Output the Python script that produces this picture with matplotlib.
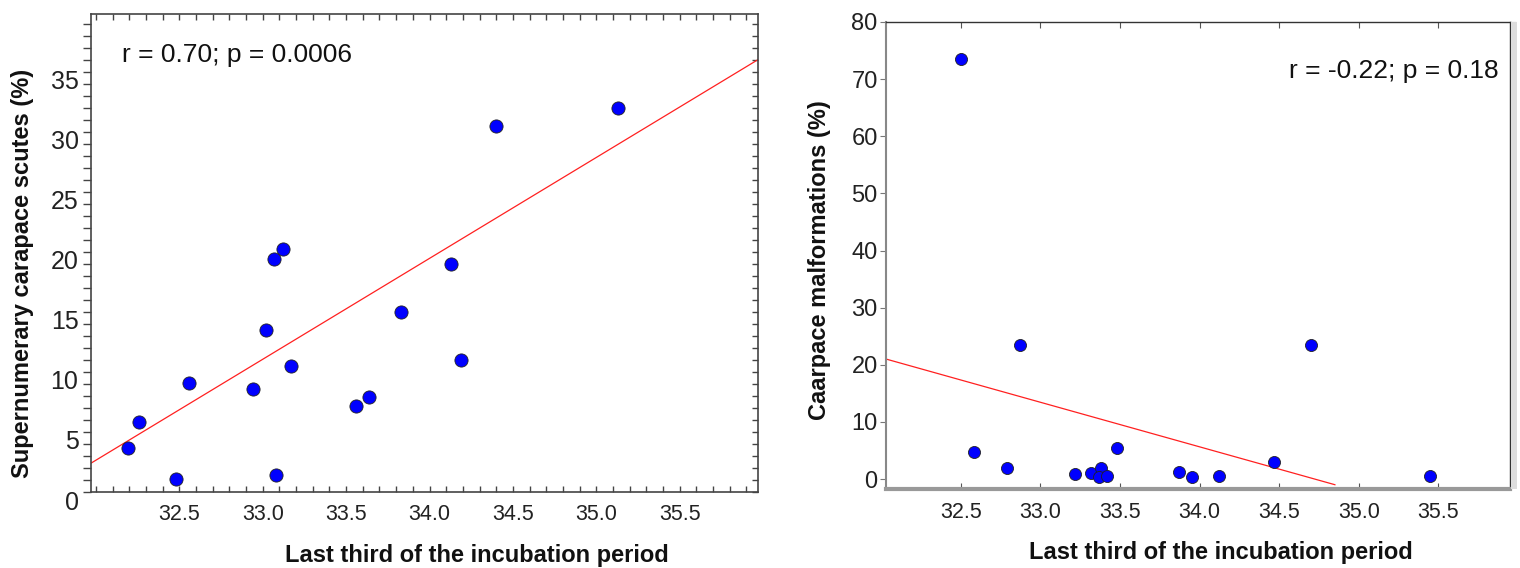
import matplotlib
matplotlib.use("Agg")
import matplotlib.pyplot as plt
import matplotlib.transforms as mtransforms
from matplotlib.ticker import MultipleLocator
from matplotlib.patches import Rectangle
import numpy as np

plt.rcParams['font.family'] = ['Liberation Sans', 'DejaVu Sans']

# ---- Left panel data: supernumerary carapace scutes ----
left_x = [32.19, 32.26, 32.48, 32.56, 32.94, 33.02, 33.08, 33.17, 33.56, 33.64,
          33.83, 34.19, 33.07, 33.12, 34.13, 34.40, 35.13]
left_y = [3.7, 5.8, 1.1, 9.1, 8.6, 13.5, 1.4, 10.5, 7.2, 7.9,
          15.0, 11.0, 19.4, 20.2, 19.0, 30.5, 32.0]
left_fit_x = [31.97, 35.97]
left_fit_y = [2.4, 36.0]
left_text = "r = 0.70; p = 0.0006"
left_xticks = [32.5, 33.0, 33.5, 34.0, 34.5, 35.0, 35.5]
left_yticks = [0, 5, 10, 15, 20, 25, 30, 35]

# ---- Right panel data: carapace malformations ----
right_x = [32.50, 32.58, 32.79, 32.87, 33.22, 33.32, 33.38, 33.37, 33.42, 33.48,
           33.87, 33.95, 34.12, 34.47, 34.70, 35.45]
right_y = [73.6, 4.8, 1.9, 23.5, 0.8, 1.1, 1.9, 0.3, 0.6, 5.4,
           1.3, 0.4, 0.6, 2.9, 23.4, 0.5]
right_fit_x = [32.03, 34.85]
right_fit_y = [21.0, -1.0]
right_text = "r = -0.22; p = 0.18"
right_xticks = [32.5, 33.0, 33.5, 34.0, 34.5, 35.0, 35.5]
right_yticks = [0, 10, 20, 30, 40, 50, 60, 70, 80]

xlabel = "Last third of the incubation period"
left_ylabel = "Supernumerary carapace scutes (%)"
right_ylabel = "Caarpace malformations (%)"

W, H = 1520, 568
fig = plt.figure(figsize=(W / 100, H / 100), dpi=100)
fig.patch.set_facecolor('white')

def ax_rect(l, t, r, b):
    return [l / W, 1 - b / H, (r - l) / W, (b - t) / H]

# ================= Left panel =================
ax1 = fig.add_axes(ax_rect(91, 14, 758, 492))
ax1.scatter(left_x, left_y, s=90, c='#0000ff', edgecolors='#222222',
            linewidths=0.6, zorder=3)
ax1.plot(left_fit_x, left_fit_y, color='#ff2020', lw=0.9, zorder=2)
ax1.set_xlim(31.97, 35.97)
ax1.set_ylim(0, 39.8)
ax1.set_xticks(left_xticks)
ax1.set_xticklabels([f"{v:.1f}" for v in left_xticks])
ax1.set_yticks(left_yticks)
ax1.xaxis.set_minor_locator(MultipleLocator(0.1))
ax1.yaxis.set_minor_locator(MultipleLocator(1))
for sp in ax1.spines.values():
    sp.set_color('#444444')
    sp.set_linewidth(1.2)
ax1.tick_params(axis='y', which='both', left=True, right=True, direction='out',
                length=6, width=1, color='#444444', labelsize=18,
                labelcolor='#222222', pad=3)
ax1.tick_params(axis='x', which='both', bottom=True, top=True, direction='in',
                length=4, width=1, color='#444444', labelsize=15.5,
                labelcolor='#222222', pad=9)
# right-side ticks inward
for t in ax1.yaxis.get_major_ticks() + ax1.yaxis.get_minor_ticks():
    t.tick2line.set_marker(matplotlib.lines.TICKLEFT)
    t.tick2line.set_markersize(4)
offset = mtransforms.ScaledTranslation(0, -8 / 100, fig.dpi_scale_trans)
for lab in ax1.get_yticklabels():
    lab.set_transform(lab.get_transform() + offset)
ax1.text(0.046, 0.914, left_text, transform=ax1.transAxes, fontsize=19,
         color='#111111', ha='left', va='center')
ax1.set_xlabel(xlabel, fontsize=17, fontweight='bold', color='#111111', va='center')
ax1.xaxis.set_label_coords(0.579, -0.132)
ax1.set_ylabel(left_ylabel, fontsize=17, fontweight='bold', color='#111111', va='center')
ax1.yaxis.set_label_coords(-0.103, 0.458)

# ================= Right panel =================
ax2 = fig.add_axes(ax_rect(886, 22, 1510, 489))
ax2.scatter(right_x, right_y, s=75, c='#0000ff', edgecolors='#222222',
            linewidths=0.6, zorder=3, clip_on=False)
ax2.plot(right_fit_x, right_fit_y, color='#ff2020', lw=0.9, zorder=2)
ax2.set_xlim(32.03, 35.95)
ax2.set_ylim(-1.75, 80)
ax2.set_xticks(right_xticks)
ax2.set_xticklabels([f"{v:.1f}" for v in right_xticks])
ax2.set_yticks(right_yticks)
ax2.spines['left'].set_color('#888888')
ax2.spines['left'].set_linewidth(1.5)
ax2.spines['top'].set_color('#333333')
ax2.spines['top'].set_linewidth(1.0)
ax2.spines['right'].set_color('#333333')
ax2.spines['right'].set_linewidth(1.0)
ax2.spines['bottom'].set_color('#999999')
ax2.spines['bottom'].set_linewidth(3.0)
ax2.tick_params(axis='y', which='major', left=True, right=True, direction='out',
                length=4, width=0.8, color='#777777', labelsize=17,
                labelcolor='#222222', pad=2)
ax2.tick_params(axis='x', which='major', bottom=True, top=True, direction='in',
                length=4, width=0.8, color='#555555', labelsize=15.5,
                labelcolor='#222222', pad=9)
ax2.text(0.981, 0.895, right_text, transform=ax2.transAxes, fontsize=19,
         color='#111111', ha='right', va='center')
ax2.set_xlabel(xlabel, fontsize=17, fontweight='bold', color='#111111', va='center')
ax2.xaxis.set_label_coords(0.537, -0.137)
ax2.set_ylabel(right_ylabel, fontsize=17, fontweight='bold', color='#111111', va='center')
ax2.yaxis.set_label_coords(-0.106, 0.49)

# light grey band to the right of the right panel frame
fig.patches.append(Rectangle((1511 / W, 1 - 489 / H), 6 / W, 467 / H,
                             transform=fig.transFigure, facecolor='#dddddd',
                             edgecolor='none', zorder=0))

fig.savefig("out.png", dpi=100, facecolor='white')
